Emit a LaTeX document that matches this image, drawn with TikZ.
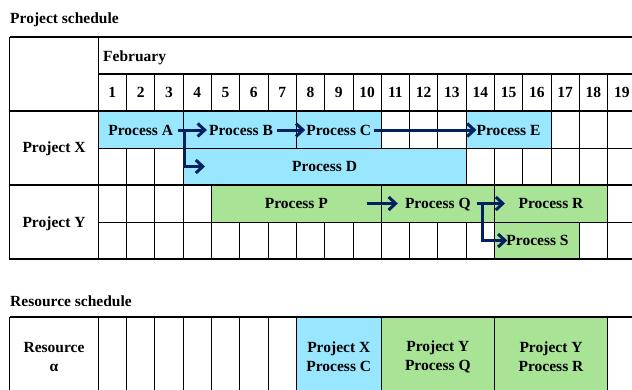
\documentclass[tikz,border=0pt]{standalone}
\usepackage{fontspec}
\setmainfont{Liberation Serif}
\usetikzlibrary{arrows.meta}

\definecolor{taskblue}{RGB}{153,230,255}
\definecolor{taskgreen}{RGB}{169,227,150}
\definecolor{flownavy}{RGB}{0,32,96}

% one cell (or a run of merged day columns): fill, first col, last col, top, bottom
\newcommand\daycell[5][white]{%
  \filldraw[fill=#1, gridthin] ({98.2+(#2-1)*28.3},#4) rectangle ({98.2+#3*28.3},#5);}

\tikzset{
  gridthin/.style={draw=black, line width=0.8pt},
  gridthick/.style={draw=black, line width=1.6pt},
  gridmid/.style={draw=black, line width=1.2pt},
  lbl/.style={font=\fontsize{15.5}{19}\selectfont\bfseries, inner sep=0pt,
              text height=10.3pt, text depth=0pt},
  lbltwo/.style={font=\fontsize{15.5}{19}\selectfont\bfseries, inner sep=0pt,
                 align=center},
  flow/.style={draw=flownavy, line width=3pt,
               -{Straight Barb[length=7pt,width=13pt]}},
}

\begin{document}
\begin{tikzpicture}[x=1pt,y=-1pt]
\useasboundingbox (0,0) rectangle (632,389);
\clip (0,0) rectangle (632,389);

% ---------- project schedule ----------
\node[lbl, anchor=base west] (titleP) at (10,23.3) {Project schedule};

% header
\draw[gridthin] (9.5,37) rectangle (98.2,111);
\draw[gridthin] (98.2,37) rectangle (640,74);
\node[lbl, anchor=base west] (month) at (103,61) {February};
\foreach \k in {1,...,19} {
  \daycell{\k}{\k}{74}{111}
  \node[lbl] (day\k) at ({98.2+(\k-0.5)*28.3},92.5) {\k};
}

% project X, first row
\daycell[taskblue]{1}{3}{111}{148}
\daycell[taskblue]{4}{7}{111}{148}
\daycell[taskblue]{8}{10}{111}{148}
\foreach \k in {11,12,13,17,18,19} {\daycell{\k}{\k}{111}{148}}
\daycell[taskblue]{14}{16}{111}{148}

% project X, second row
\foreach \k in {1,2,3,14,15,16,17,18,19} {\daycell{\k}{\k}{148}{185}}
\daycell[taskblue]{4}{13}{148}{185}

% project Y, first row
\foreach \k in {1,2,3,4,19} {\daycell{\k}{\k}{185}{222}}
\daycell[taskgreen]{5}{10}{185}{222}
\daycell[taskgreen]{11}{14}{185}{222}
\daycell[taskgreen]{15}{18}{185}{222}

% project Y, second row
\foreach \k in {1,...,14,18,19} {\daycell{\k}{\k}{222}{259}}
\daycell[taskgreen]{15}{17}{222}{259}

% project labels
\draw[gridthin] (9.5,111) rectangle (98.2,185);
\draw[gridthin] (9.5,185) rectangle (98.2,259);
\node[lbl] (projX) at (54,147.5) {Project X};
\node[lbl] (projY) at (54,222.5) {Project Y};

% process labels
\node[lbl] (pA) at (140.65,130) {Process A};
\node[lbl] (pB) at (241,130) {Process B};
\node[lbl] (pC) at (338.75,130) {Process C};
\node[lbl] (pE) at (508.55,130) {Process E};
\node[lbl] (pD) at (324.6,166.5) {Process D};
\node[lbl] (pP) at (296.3,203.5) {Process P};
\node[lbl] (pQ) at (437.8,203.5) {Process Q};
\node[lbl] (pR) at (551,203.5) {Process R};
\node[lbl] (pS) at (537.5,240.5) {Process S};

% heavy rules
\draw[gridthick] (9.5,37) -- (640,37);
\draw[gridmid] (98.2,74) -- (640,74);
\draw[gridmid] (9.5,111) -- (640,111);
\draw[gridmid] (9.5,185) -- (640,185);
\draw[gridmid] (9.5,259) -- (640,259);
\draw[gridmid] (9.5,37) -- (9.5,259);
\draw[gridmid] (98.2,37) -- (98.2,259);

% dependencies
\coordinate (forkA) at (184,130);
\coordinate (inD) at (205,166.5);
\coordinate (startPQ) at (367,203.5);
\coordinate (forkQ) at (482.7,203.5);
\coordinate (inR) at (505,203.5);

\draw[flow] ([xshift=5pt]pA.east) -- ([xshift=-2pt]pB.west);
\draw[flow] ([xshift=4pt]pB.east) -- ([xshift=-1pt]pC.west);
\draw[flow] ([xshift=3pt]pC.east) -- (pE.west);
\draw[flow] (forkA) |- (inD);
\draw[flow] (startPQ) -- ([xshift=-7pt]pQ.west);
\draw[flow] ([xshift=6pt]pQ.east) -- (inR);
\draw[flow] (forkQ) |- ([xshift=1pt]pS.west);

% ---------- resource schedule ----------
\node[lbl, anchor=base west] (titleR) at (10,306) {Resource schedule};

\foreach \k in {1,...,7,19} {\daycell{\k}{\k}{317}{400}}
\daycell[taskblue]{8}{10}{317}{400}
\daycell[taskgreen]{11}{14}{317}{400}
\daycell[taskgreen]{15}{18}{317}{400}
\draw[gridthin] (9.5,317) rectangle (98.2,400);

\node[lbltwo] (resA) at (54,356.5) {Resource\\α};
\node[lbltwo] (useC) at (338.75,356.5) {Project X\\Process C};
\node[lbltwo] (useQ) at (437.8,356.5) {Project Y\\Process Q};
\node[lbltwo] (useR) at (551,356.5) {Project Y\\Process R};

\draw[gridthick] (9.5,317) -- (640,317);
\draw[gridmid] (9.5,317) -- (9.5,400);
\draw[gridmid] (98.2,317) -- (98.2,400);
\end{tikzpicture}
\end{document}
